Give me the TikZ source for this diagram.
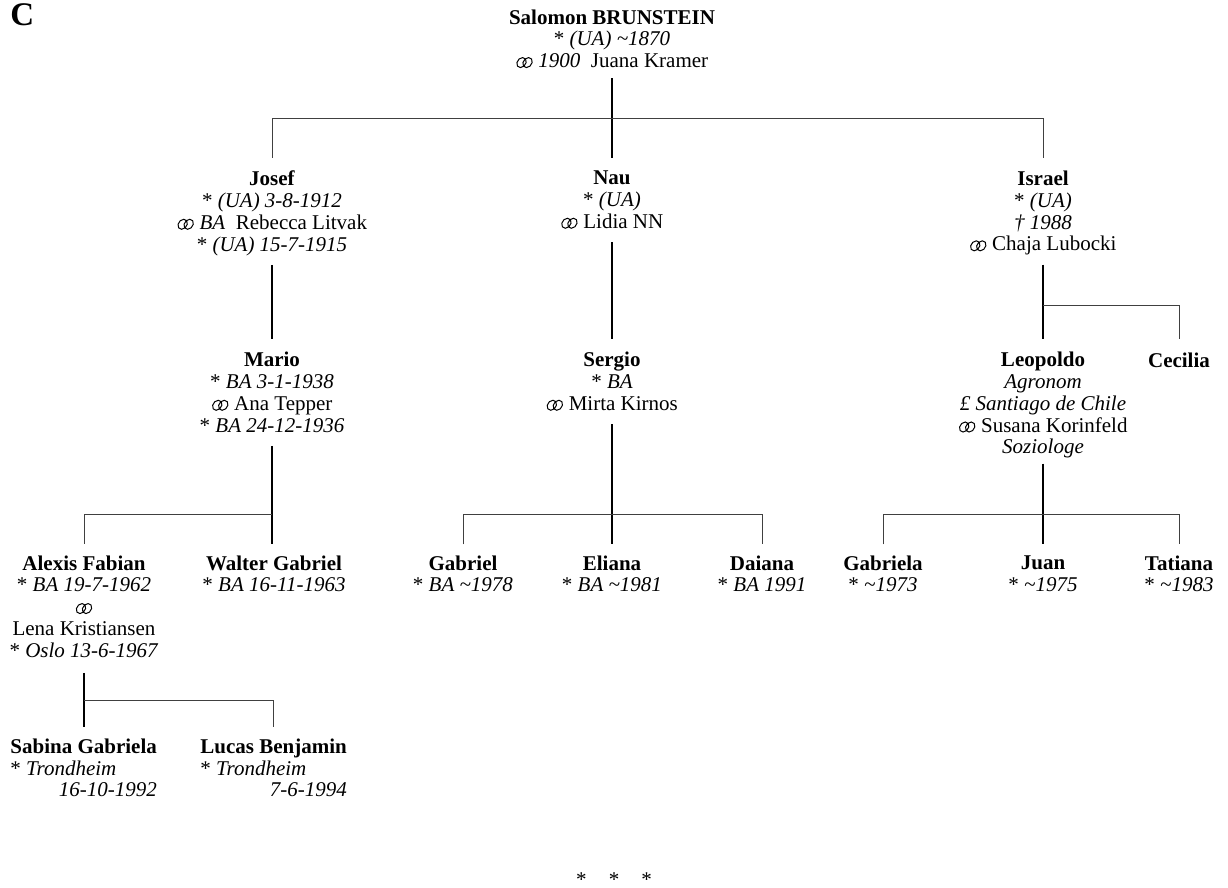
\documentclass[tikz,border=0pt]{standalone}
\usepackage{fontspec}
\setmainfont{Liberation Serif}
% marriage sign: two interlocked slanted rings
\newcommand\marr{\tikz[baseline=0pt, x=1pt, y=1pt]{\draw[line width=0.5pt, black, xslant=0.22] (2.3,2.5) ellipse [x radius=2.3pt, y radius=2.5pt] (5.3,2.5) ellipse [x radius=2.3pt, y radius=2.5pt];}}
% born sign, circa sign
\newcommand\born{*\ }
\newcommand\ca{\textasciitilde}
% body text with tight line spacing
\newcommand\treefont{\fontsize{10.5pt}{10.875pt}\selectfont}
\begin{document}
\begin{tikzpicture}[x=0.5pt,y=-0.5pt,
  font=\treefont,
  person/.style={inner sep=0pt, align=center, anchor=north,
    execute at begin node=\strut, execute at end node=\strut},
  leftperson/.style={inner sep=0pt, anchor=north west},
  kin/.style={line width=0.85pt, black},
  branch/.style={line width=0.5pt, black!75},
  upper/.style={shorten >=6.4pt},
  lower/.style={shorten >=5.4pt},
  below/.style={shorten <=3.5pt}]
\useasboundingbox (0,0) rectangle (1228,888);

% section letter
\node[anchor=north west, inner sep=0pt, font=\fontsize{16.5pt}{18pt}\selectfont\bfseries] (sect) at (10,3) {C};

% generation 1
\node[person] (salomon) at (612,9.1) {\textbf{Salomon BRUNSTEIN}\\\born\textit{(UA) \ca1870}\\\marr\ \textit{1900}\ \ Juana Kramer};

% generation 2
\node[person] (josef) at (272,170.6) {\textbf{Josef}\\\born\textit{(UA) 3-8-1912}\\\marr\ \textit{BA}\ \ Rebecca Litvak\\\born\textit{(UA) 15-7-1915}};
\node[person] (nau) at (612,170.6) {\textbf{Nau}\\\born\textit{(UA)}\\\marr\ Lidia NN};
\node[person] (israel) at (1043,170.6) {\textbf{Israel}\\\born\textit{(UA)}\\\textit{† 1988}\\\marr\ Chaja Lubocki};

% generation 3
\node[person] (mario) at (272,351.8) {\textbf{Mario}\\\born\textit{BA 3-1-1938}\\\marr\ Ana Tepper\\\born\textit{BA 24-12-1936}};
\node[person] (sergio) at (612,351.8) {\textbf{Sergio}\\\born\textit{BA}\\\marr\ Mirta Kirnos};
\node[person] (leopoldo) at (1043,351.8) {\textbf{Leopoldo}\\\textit{Agronom}\\\textit{£ Santiago de Chile}\\\marr\ Susana Korinfeld\\\textit{Soziologe}};
\node[person] (cecilia) at (1179,351.8) {\textbf{Cecilia}};

% generation 4
\node[person] (alexis) at (84,555.1) {\textbf{Alexis Fabian}\\\born\textit{BA 19-7-1962}\\\marr\\Lena Kristiansen\\\born\textit{Oslo 13-6-1967}};
\node[person] (walter) at (274,555.1) {\textbf{Walter Gabriel}\\\born\textit{BA 16-11-1963}};
\node[person] (gabriel) at (463,555.1) {\textbf{Gabriel}\\\born\textit{BA \ca1978}};
\node[person] (eliana) at (612,555.1) {\textbf{Eliana}\\\born\textit{BA \ca1981}};
\node[person] (daiana) at (762,555.1) {\textbf{Daiana}\\\born\textit{BA 1991}};
\node[person] (gabriela) at (883,555.1) {\textbf{Gabriela}\\\born\textit{\ca1973}};
\node[person] (juan) at (1043,555.1) {\textbf{Juan}\\\born\textit{\ca1975}};
\node[person] (tatiana) at (1179,555.1) {\textbf{Tatiana}\\\born\textit{\ca1983}};

% generation 5
\node[leftperson] (sabina) at (10,737.8) {\begin{tabular}{@{}l@{}}\textbf{Sabina Gabriela}\\\born\textit{Trondheim}\\\hfill\textit{16-10-1992}\end{tabular}};
\node[leftperson] (lucas) at (200,737.8) {\begin{tabular}{@{}l@{}}\textbf{Lucas Benjamin}\\\born\textit{Trondheim}\\\hfill\textit{7-6-1994}\end{tabular}};

% closing mark
\node[anchor=base, inner sep=0pt] (stars) at (614,886) {*\hspace{1.05em}*\hspace{1.05em}*};

% bar heights
\coordinate (bar0) at (612,119);
\coordinate (bar1) at (1043,306);
\coordinate (bar2) at (272,514);
\coordinate (bar3) at (612,514);
\coordinate (bar4) at (1043,514);
\coordinate (bar5) at (272,700);

% Salomon's children
\draw[kin, below, upper, shorten <=2pt] (salomon.south) -- (salomon.south |- nau.north);
\draw[branch, shorten <=6.4pt, upper] (josef.north) -- (josef.north |- bar0) -- (israel.north |- bar0) -- (israel.north);

% single lines of descent
\draw[kin, below, upper] (josef.south) -- (josef.south |- mario.north);
\draw[kin, below, upper] (nau.south) -- (nau.south |- sergio.north);

% Israel's children
\draw[kin, below, upper] (israel.south) -- (israel.south |- leopoldo.north);
\draw[branch, upper] (israel.south |- bar1) -- (cecilia.north |- bar1) -- (cecilia.north);

% Mario's children
\draw[kin, below, lower] (mario.south) -- (mario.south |- walter.north);
\draw[branch, lower] (mario.south |- bar2) -- (alexis.north |- bar2) -- (alexis.north);

% Sergio's children
\draw[kin, below, lower] (sergio.south) -- (sergio.south |- eliana.north);
\draw[branch, shorten <=5.4pt, lower] (gabriel.north) -- (gabriel.north |- bar3) -- (daiana.north |- bar3) -- (daiana.north);

% Leopoldo's children
\draw[kin, shorten <=1.5pt, lower] (leopoldo.south) -- (leopoldo.south |- juan.north);
\draw[branch, shorten <=5.4pt, lower] (gabriela.north) -- (gabriela.north |- bar4) -- (tatiana.north |- bar4) -- (tatiana.north);

% Alexis' children
\draw[kin, shorten <=4.5pt, lower] (alexis.south) -- (alexis.south |- sabina.north);
\draw[branch, lower] (alexis.south |- bar5) -- (lucas.north |- bar5) -- (lucas.north);
\end{tikzpicture}
\end{document}
